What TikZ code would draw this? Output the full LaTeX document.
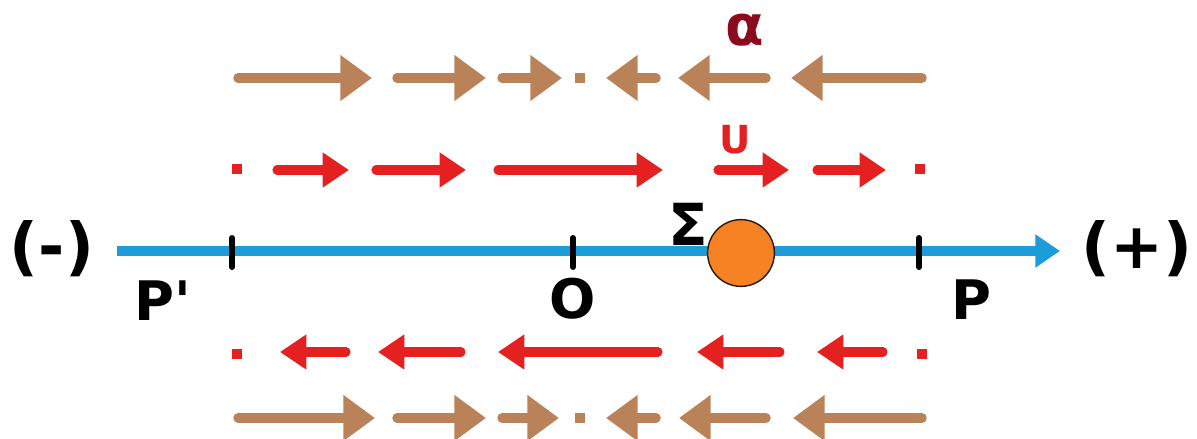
\documentclass[tikz,border=0pt]{standalone}
\usepackage{fontspec}
\setmainfont{DejaVu Sans}[Ligatures=TeXOff]
\usetikzlibrary{arrows.meta}
\definecolor{brownarr}{RGB}{186,130,88}
\definecolor{redarr}{RGB}{228,32,32}
\definecolor{axisblue}{RGB}{28,156,216}
\definecolor{ballorange}{RGB}{246,130,36}
\definecolor{alphared}{RGB}{140,10,30}
\tikzset{
  brownv/.style={draw=brownarr, line width=5.4pt, line cap=round, -{Triangle[length=18pt,width=25pt]}},
  redv/.style={draw=redarr, line width=5.2pt, line cap=round, -{Triangle[length=15pt,width=19pt]}},
  browndot/.style={fill=brownarr, minimum size=6pt, inner sep=0pt, draw=none, rectangle},
  reddot/.style={fill=redarr, minimum size=6pt, inner sep=0pt, draw=none, rectangle},
  axisline/.style={draw=axisblue, line width=5.2pt, -{Triangle[length=14pt,width=18pt]}},
  tickmark/.style={draw=black, line width=3.4pt, line cap=round},
  lbl/.style={font=\bfseries\fontsize{31}{35}\selectfont, inner sep=0pt},
  sign/.style={font=\bfseries\fontsize{36}{40}\selectfont, inner sep=0pt},
}
\begin{document}
\begin{tikzpicture}[x=0.02cm, y=-0.02cm]
\useasboundingbox (0,0) rectangle (1197,439);
% ---- top brown row (y=78)
\foreach \n/\a/\b in {t1/238/372, t2/397/486, t3/502/562, t4/656/606, t5/766/678, t6/922/791}{
  \coordinate (\n s) at (\a,78); \coordinate (\n e) at (\b,78);
  \draw[brownv] (\n s) -- (\n e);
}
\node[browndot] (tdot) at (580,78) {};
% ---- bottom brown row (y=418)
\foreach \n/\a/\b in {b1/238/375, b2/397/486, b3/502/559, b4/656/606, b5/766/679, b6/922/793}{
  \coordinate (\n s) at (\a,418); \coordinate (\n e) at (\b,418);
  \draw[brownv] (\n s) -- (\n e);
}
\node[browndot] (bdot) at (580,418) {};
% ---- top red row (y=170)
\foreach \n/\a/\b in {r1/277/349, r2/376/466, r3/498/663, r4/718/789, r5/817/886}{
  \coordinate (\n s) at (\a,170); \coordinate (\n e) at (\b,170);
  \draw[redv] (\n s) -- (\n e);
}
\node[reddot] (rdl) at (237,169) {};
\node[reddot] (rdr) at (920,169) {};
% ---- bottom red row (y=352)
\foreach \n/\a/\b in {q1/346/280, q2/461/378, q3/658/498, q4/780/697, q5/883/817}{
  \coordinate (\n s) at (\a,352); \coordinate (\n e) at (\b,352);
  \draw[redv] (\n s) -- (\n e);
}
\node[reddot] (qdl) at (237,354) {};
\node[reddot] (qdr) at (922,354) {};
% ---- axis
\coordinate (axs) at (117,251);
\coordinate (axe) at (1060,251);
\draw[axisline] (axs) -- (axe);
\foreach \n/\x in {tp/232, to/573, tq/919}{
  \coordinate (\n a) at (\x,238); \coordinate (\n b) at (\x,267);
  \draw[tickmark] (\n a) -- (\n b);
}
\node[circle, fill=ballorange, draw=black!80!brown, line width=0.8pt, minimum size=38pt, inner sep=0pt] (ball) at (741,253) {};
% ---- labels
\node[sign] (minus) at (52,249) {(-)};
\node[sign] (plus) at (1137,249) {(+)};
\node[lbl] (Pp) at (163,301) {P'};
\node[lbl] (O) at (573,299) {O};
\node[lbl] (P) at (971,300) {P};
\node[font=\bfseries\fontsize{33}{36}\selectfont, inner sep=0pt] (Sig) at (688,224) {Σ};
\node[font=\bfseries\fontsize{22}{26}\selectfont, text=redarr, inner sep=0pt] (U) at (735,140) {U};
\node[font=\bfseries\fontsize{32}{36}\selectfont, text=alphared, inner sep=0pt] (alpha) at (745,30) {α};
\end{tikzpicture}
\end{document}
